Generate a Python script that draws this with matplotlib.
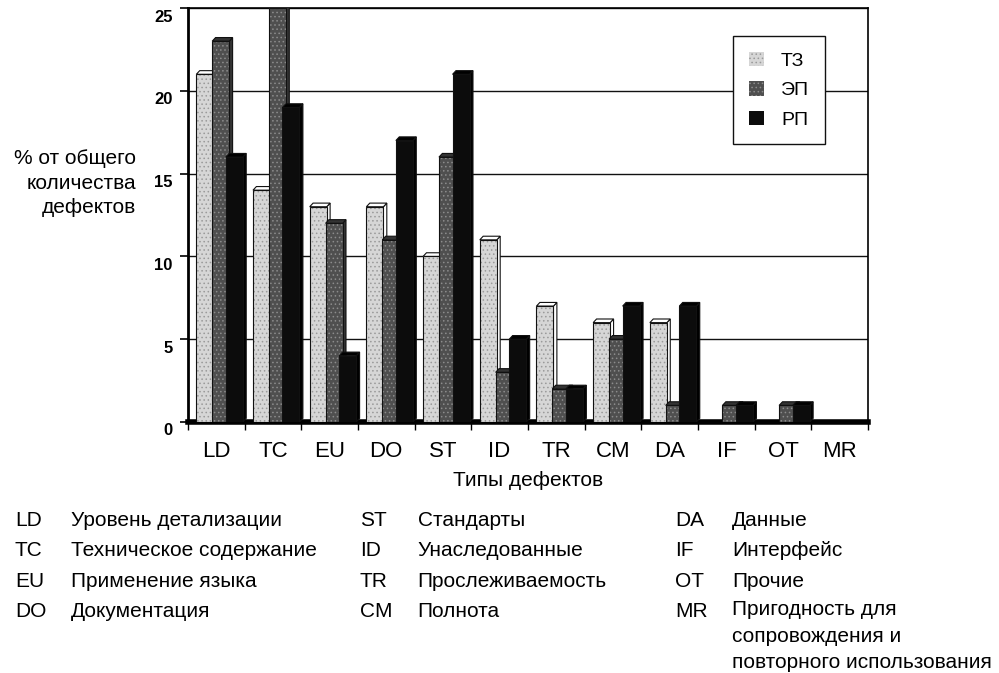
"""
Distribution of defect types over three document kinds (ТЗ, ЭП, РП).
Grouped bar chart with a legend of the defect codes underneath.
"""

import numpy as np
import matplotlib.pyplot as plt
from matplotlib.patches import Polygon
from matplotlib.transforms import ScaledTranslation, blended_transform_factory

codes = ["LD", "TC", "EU", "DO", "ST", "ID", "TR", "CM", "DA", "IF", "OT", "MR"]
series_names = ["ТЗ", "ЭП", "РП"]
tz_values = [21, 14, 13, 13, 10, 11, 7, 6, 6, 0, 0, 0]
ep_values = [23, 25, 12, 11, 16, 3, 2, 5, 1, 1, 1, 0]
rp_values = [16, 19, 4, 17, 21, 5, 2, 7, 7, 1, 1, 0]
y_ticks = [0, 5, 10, 15, 20, 25]

code_names = [
    ("LD", "Уровень детализации"),
    ("TC", "Техническое содержание"),
    ("EU", "Применение языка"),
    ("DO", "Документация"),
    ("ST", "Стандарты"),
    ("ID", "Унаследованные"),
    ("TR", "Прослеживаемость"),
    ("CM", "Полнота"),
    ("DA", "Данные"),
    ("IF", "Интерфейс"),
    ("OT", "Прочие"),
    ("MR", "Пригодность для\nсопровождения и\nповторного использования"),
]

plt.rcParams["font.family"] = ["Liberation Sans", "DejaVu Sans"]
plt.rcParams["hatch.linewidth"] = 0.6

fig = plt.figure(figsize=(9.99, 6.73), dpi=100)
ax = fig.add_axes([0.188, 0.373, 0.681, 0.615])

x = np.arange(len(codes))
width = 0.30
offsets = [-0.20, 0.08, 0.32]
faces = ["#d6d6d6", "#4f4f4f", "#0c0c0c"]
hatches = ["....", "....", None]
hatch_cols = ["#9a9a9a", "#8c8c8c", "#0c0c0c"]
side_faces = ["white", "#333333", "#000000"]
dx, dy = 0.06, 0.22  # depth of the pseudo-3D faces

handles = []
for k, (vals, off, name) in enumerate(zip([tz_values, ep_values, rp_values], offsets, series_names)):
    z = 3 + 2 * k
    for xi, v in zip(x + off, vals):
        if v <= 0:
            continue
        left, right = xi - width / 2, xi + width / 2
        side = Polygon([(right, 0), (right + dx, dy), (right + dx, v + dy), (right, v)],
                       closed=True, facecolor=side_faces[k], edgecolor="#111111",
                       linewidth=0.8, zorder=z)
        top = Polygon([(left, v), (left + dx, v + dy), (right + dx, v + dy), (right, v)],
                      closed=True, facecolor=side_faces[k], edgecolor="#111111",
                      linewidth=0.8, zorder=z)
        ax.add_patch(side)
        ax.add_patch(top)
    bars = ax.bar(x + off, vals, width, color=faces[k], hatch=hatches[k],
                  edgecolor=hatch_cols[k], linewidth=0, zorder=z + 1, label=name)
    heights = np.array(vals, dtype=float)
    ax.bar((x + off)[heights > 0], heights[heights > 0], width, fill=False,
           edgecolor="#111111", linewidth=0.8, zorder=z + 1)
    handles.append(bars)

ax.set_xlim(-0.5, len(codes) - 0.5)
ax.set_ylim(0, 25)
ax.set_yticks(y_ticks)
ax.set_yticklabels([])
# y tick labels sit a little below their tick marks
label_tr = blended_transform_factory(ax.transAxes, ax.transData) + \
    ScaledTranslation(-0.15, -0.09, fig.dpi_scale_trans)
for t in y_ticks:
    ax.text(0, t, str(t), transform=label_tr, ha="right", va="center",
            fontsize=12, fontweight="bold", clip_on=False)
ax.set_xticks(x)
ax.set_xticklabels(codes, fontsize=16)
ax.set_xticks(np.arange(len(codes) + 1) - 0.5, minor=True)
ax.tick_params(axis="x", which="major", length=0, pad=14)
ax.tick_params(axis="x", which="minor", length=6, direction="out", width=1)
ax.tick_params(axis="y", length=6, direction="out", width=1.2)
ax.yaxis.grid(True, color="#111111", linewidth=1.0)
ax.set_axisbelow(True)
for side in ["top", "right"]:
    ax.spines[side].set_linewidth(1.2)
ax.spines["left"].set_linewidth(2.0)
ax.spines["bottom"].set_linewidth(4)

ax.set_xlabel("Типы дефектов", fontsize=15, labelpad=6)
fig.text(0.136, 0.728, "% от общего\nколичества\nдефектов", ha="right", va="center",
         fontsize=15, linespacing=1.35)

leg = ax.legend(handles=handles, loc="upper right", bbox_to_anchor=(0.936, 0.932),
                fontsize=14, frameon=True, fancybox=False, edgecolor="#111111",
                framealpha=1, handlelength=0.75, handleheight=0.75, handletextpad=0.9,
                borderpad=0.8, labelspacing=0.6, borderaxespad=0)
leg.get_frame().set_linewidth(1.0)

# code legend under the chart, three columns of four rows
col_x = [(0.015, 0.071), (0.360, 0.418), (0.676, 0.733)]
row_y = [0.227, 0.182, 0.136, 0.091]
for i, (code, desc) in enumerate(code_names):
    col, row = divmod(i, 4)
    cx, tx = col_x[col]
    fig.text(cx, row_y[row], code, fontsize=15, va="center")
    if "\n" in desc:
        fig.text(tx, row_y[row] + 0.017, desc, fontsize=15, va="top", linespacing=1.5)
    else:
        fig.text(tx, row_y[row], desc, fontsize=15, va="center")

fig.savefig("out.png", dpi=100)
